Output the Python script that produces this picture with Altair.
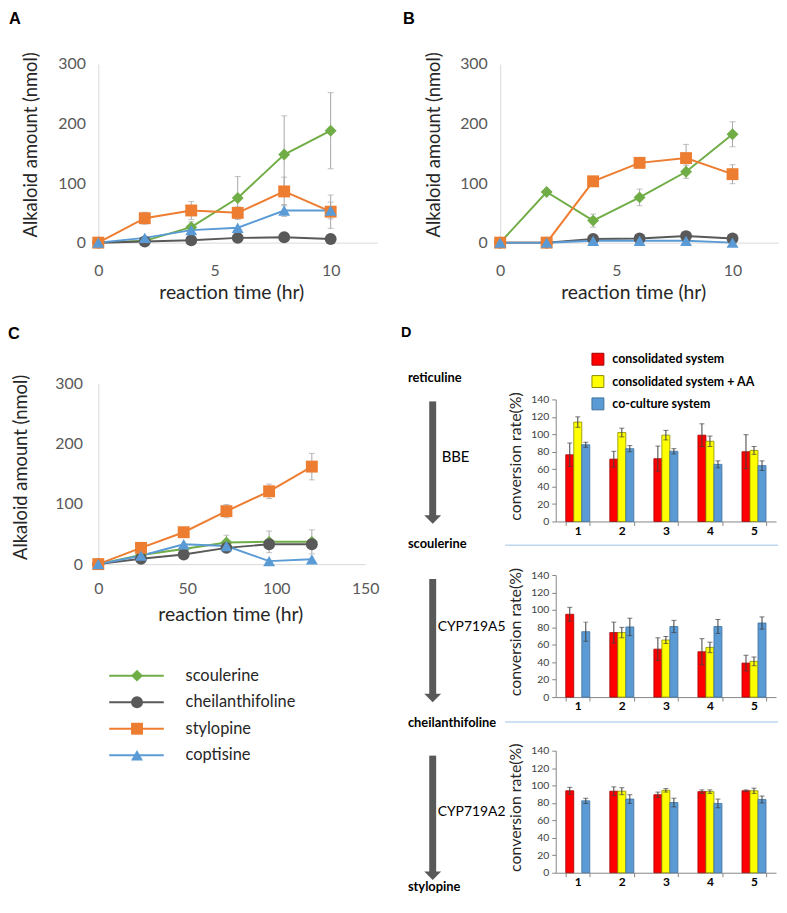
import altair as alt
import pandas as pd

FONT = "Lato"
LBL = "#595959"
TTL = "#262626"
AXL = "#D9D9D9"

series = ["scoulerine", "cheilanthifoline", "stylopine", "coptisine"]
series_colors = ["#70AD47", "#595959", "#ED7D31", "#5B9BD5"]
series_shapes = ["diamond", "circle", "square", "triangle-up"]

time_ab = [0, 2, 4, 6, 8, 10]
time_c = [0, 24, 48, 72, 96, 120]
ticks_ab = [0, 5, 10]
ticks_c = [0, 50, 100, 150]
ticks_amount = [0, 100, 200, 300]

# Panel A
a_scoulerine = [0, 3, 26, 75, 148, 188]
a_scoulerine_err = [0, 0, 9, 36, 65, 64]
a_cheilanthifoline = [0, 2, 4, 8, 9, 6]
a_cheilanthifoline_err = [0, 0, 0, 0, 0, 0]
a_stylopine = [0, 41, 54, 50, 86, 52]
a_stylopine_err = [0, 10, 15, 10, 24, 28]
a_coptisine = [0, 8, 21, 25, 54, 54]
a_coptisine_err = [0, 0, 0, 0, 10, 14]

# Panel B
b_scoulerine = [0, 85, 37, 76, 119, 182]
b_scoulerine_err = [0, 0, 11, 14, 11, 21]
b_cheilanthifoline = [0, 0, 6, 7, 11, 7]
b_cheilanthifoline_err = [0, 0, 0, 0, 0, 0]
b_stylopine = [0, 0, 103, 134, 142, 115]
b_stylopine_err = [0, 0, 0, 0, 23, 16]
b_coptisine = [0, 0, 3, 3, 3, 0]
b_coptisine_err = [0, 0, 0, 0, 0, 0]

# Panel C
c_scoulerine = [0, 15, 25, 36, 37, 37]
c_scoulerine_err = [0, 0, 0, 12, 18, 20]
c_cheilanthifoline = [0, 9, 16, 27, 33, 33]
c_cheilanthifoline_err = [0, 0, 0, 0, 0, 0]
c_stylopine = [0, 27, 53, 88, 121, 162]
c_stylopine_err = [0, 0, 0, 11, 12, 22]
c_coptisine = [0, 14, 33, 30, 5, 8]
c_coptisine_err = [0, 0, 0, 5, 0, 0]

# Panel D
systems = ["consolidated system", "consolidated system + AA", "co-culture system"]
sys_fill = ["#FF0000", "#FFFF00", "#5B9BD5"]
sys_stroke = ["#A00000", "#8C8C00", "#41719C"]
groups = ["1", "2", "3", "4", "5"]
ticks_rate = [0, 20, 40, 60, 80, 100, 120, 140]

d1_red = [76.5, 71.5, 72, 99, 80]
d1_red_err = [13.5, 9, 14.5, 13, 19.5]
d1_yellow = [114, 102, 99, 92, 81.5]
d1_yellow_err = [6, 5, 5.5, 6, 4.5]
d1_blue = [88, 83.5, 80.5, 65.5, 64]
d1_blue_err = [3, 3.5, 3, 4, 5.5]

d2_red = [95, 74, 55, 52, 39]
d2_red_err = [8, 12, 13, 15, 9]
d2_yellow = [None, 74, 65.5, 57, 41]
d2_yellow_err = [None, 6, 4, 6, 5]
d2_blue = [75, 80.5, 81, 81, 85]
d2_blue_err = [11, 10, 7, 8, 7]

d3_red = [94, 93.5, 89.5, 93, 94]
d3_red_err = [4, 5, 3, 2, 1]
d3_yellow = [None, 93.5, 94.5, 93, 94]
d3_yellow_err = [None, 4, 2, 2, 3]
d3_blue = [82.5, 84.5, 80.5, 79.5, 84]
d3_blue_err = [3, 5, 5, 5, 4]


def one_row(s=""):
    return pd.DataFrame({"s": [s]})


def txt(s, x, y, size, bold=False, align="left", baseline="middle", font=FONT, color="#000000"):
    return alt.Chart(one_row(s)).mark_text(
        align=align, baseline=baseline, font=font, fontSize=size,
        fontWeight="bold" if bold else "normal", color=color
    ).encode(x=alt.value(x), y=alt.value(y), text="s:N")


series_color = alt.Color("series:N", scale=alt.Scale(domain=series, range=series_colors), legend=None)
series_shape = alt.Shape("series:N", scale=alt.Scale(domain=series, range=series_shapes), legend=None)


def line_panel(times, vals, errs, xdom, xticks, w, h, letter, lx, ly,
               ytx, yty, xtx, xty, ylabpad, xlabpad):
    rows = []
    for s in series:
        for t, v, e in zip(times, vals[s], errs[s]):
            rows.append({"series": s, "t": t, "v": v, "lo": v - e, "hi": v + e, "e": e})
    df = pd.DataFrame(rows)
    edf = df[df.e > 0]
    xs = alt.Scale(domain=xdom, nice=False, zero=False)
    ys = alt.Scale(domain=[0, 300], nice=False, zero=False)
    xax = alt.Axis(values=xticks, title="reaction time (hr)", grid=False, ticks=False,
                   domainColor=AXL, domainWidth=1, labelFlush=False,
                   labelFont=FONT, labelFontSize=16, labelColor=LBL, labelPadding=xlabpad,
                   titleFont=FONT, titleFontSize=19.5, titleFontWeight="normal", titleColor=TTL,
                   titleX=xtx, titleY=xty, titleBaseline="middle", titleAlign="center")
    yax = alt.Axis(values=ticks_amount, title="Alkaloid amount (nmol)", grid=False, ticks=False,
                   domainColor=AXL, domainWidth=1,
                   labelFont=FONT, labelFontSize=16, labelColor=LBL, labelPadding=ylabpad,
                   titleFont=FONT, titleFontSize=18.5, titleFontWeight="normal", titleColor=TTL,
                   titleX=ytx, titleY=yty, titleBaseline="middle", titleAlign="center",
                   titleAngle=270)
    X = alt.X("t:Q", scale=xs, axis=xax)
    Y = alt.Y("v:Q", scale=ys, axis=yax)
    eb = alt.Chart(edf)
    err = eb.mark_rule(color="#A6A6A6", strokeWidth=1).encode(
        x=X, y=alt.Y("lo:Q", scale=ys, axis=yax), y2="hi:Q")
    cap_hi = eb.mark_tick(orient="horizontal", size=6, thickness=1, color="#A6A6A6").encode(
        x=X, y=alt.Y("hi:Q", scale=ys, axis=yax))
    cap_lo = eb.mark_tick(orient="horizontal", size=6, thickness=1, color="#A6A6A6").encode(
        x=X, y=alt.Y("lo:Q", scale=ys, axis=yax))
    base = alt.Chart(df)
    line = base.mark_line(strokeWidth=2).encode(x=X, y=Y, color=series_color)
    pts = base.mark_point(filled=True, size=144, opacity=1).encode(
        x=X, y=Y, color=series_color, shape=series_shape)
    lab = txt(letter, lx, ly, 16.5, bold=True, baseline="top", font="Liberation Sans")
    return alt.layer(err, cap_hi, cap_lo, line, pts, lab).properties(width=w, height=h)


def pack(prefix):
    g = globals()
    vals = {s: g[f"{prefix}_{s}"] for s in series}
    errs = {s: g[f"{prefix}_{s}_err"] for s in series}
    return vals, errs


va, ea = pack("a")
vb, eb_ = pack("b")
vc, ec = pack("c")

A = line_panel(time_ab, va, ea, [0, 12], ticks_ab, 281, 180, "A", -90, -53,
               -68, 81, 134, 50, 13, 20)
B = line_panel(time_ab, vb, eb_, [0, 12], ticks_ab, 281, 180, "B", -98, -53,
               -67, 81, 134, 50, 13, 20)
C = line_panel(time_c, vc, ec, [0, 150], ticks_c, 269, 182, "C", -91, -58,
               -78, 84, 133, 51, 16, 17)

# manual line+marker legend for A-C
leg_df = pd.DataFrame({"series": series})
LY = alt.Y("series:N", scale=alt.Scale(type="point", domain=series, padding=0.5), axis=None)
leg_rule = alt.Chart(leg_df).mark_rule(strokeWidth=2).encode(
    x=alt.value(11), x2=alt.value(66), y=LY, color=series_color)
leg_pts = alt.Chart(leg_df).mark_point(filled=True, size=144, opacity=1).encode(
    x=alt.value(39), y=LY, color=series_color, shape=series_shape)
leg_txt = alt.Chart(leg_df).mark_text(align="left", baseline="middle", font=FONT,
                                      fontSize=16.5, color=TTL).encode(
    x=alt.value(88), y=LY, text="series:N")
legend_chart = alt.layer(leg_rule, leg_pts, leg_txt).properties(width=220, height=107)

left_col = alt.vconcat(C, legend_chart, spacing=99, bounds="flush")


def arrow(y1, y2, yh):
    shaft = alt.Chart(one_row()).mark_rule(color="#595959", strokeWidth=7).encode(
        x=alt.value(-124), y=alt.value(y1), y2=alt.value(y2))
    head = alt.Chart(one_row()).mark_point(shape="M-1,-0.5L1,-0.5L0,0.5Z", filled=True,
                                           size=289, color="#595959", opacity=1).encode(
        x=alt.value(-124), y=alt.value(yh))
    return [shaft, head]


def sep(y):
    return alt.Chart(one_row()).mark_rule(color="#BDD7EE", strokeWidth=1.5).encode(
        x=alt.value(-51), x2=alt.value(224), y=alt.value(y))


def bar_panel(red, red_e, yel, yel_e, blu, blu_e, show_legend, decor):
    rows = []
    for s, vals, errs in zip(systems, [red, yel, blu], [red_e, yel_e, blu_e]):
        for g, v, e in zip(groups, vals, errs):
            if v is None:
                continue
            rows.append({"grp": g, "sys": s, "val": v, "lo": v - e, "hi": v + e})
    df = pd.DataFrame(rows)
    xax = alt.Axis(title=None, labelAngle=0, labelFont=FONT, labelFontSize=12,
                   labelFontWeight="bold", labelColor="#000000", labelPadding=0,
                   ticks=True, tickBand="extent", tickSize=4, tickColor="#868686",
                   domainColor="#868686", grid=False)
    X = alt.X("grp:N", scale=alt.Scale(domain=groups, paddingInner=0.4545, paddingOuter=0.2273),
              axis=xax)
    XO = alt.XOffset("sys:N", scale=alt.Scale(domain=systems, paddingInner=0, paddingOuter=0))
    ys = alt.Scale(domain=[0, 140], nice=False, zero=False)
    yax = alt.Axis(values=ticks_rate, title="conversion rate(%)", grid=False,
                   ticks=True, tickSize=4, tickColor="#868686", domainColor="#868686",
                   labelFont=FONT, labelFontSize=10.5, labelColor="#404040", labelPadding=3,
                   titleFont=FONT, titleFontSize=16, titleFontWeight="normal", titleColor=TTL,
                   titleX=-41, titleY=57, titleBaseline="middle", titleAlign="center",
                   titleAngle=270)
    if show_legend:
        leg = alt.Legend(title=None, orient="none", legendX=36, legendY=-47,
                         symbolType="square", symbolSize=144, symbolStrokeWidth=1,
                         labelFont=FONT, labelFontSize=12.5, labelFontWeight="bold",
                         labelColor="#000000", labelOffset=8, rowPadding=5.5, padding=0,
                         labelLimit=300)
    else:
        leg = None
    fill = alt.Fill("sys:N", scale=alt.Scale(domain=systems, range=sys_fill), legend=leg)
    stroke = alt.Stroke("sys:N", scale=alt.Scale(domain=systems, range=sys_stroke), legend=leg)
    base = alt.Chart(df)
    bars = base.mark_bar(strokeWidth=0.8).encode(
        x=X, xOffset=XO, y=alt.Y("val:Q", scale=ys, axis=yax), fill=fill, stroke=stroke)
    err = base.mark_rule(color="#404040", strokeWidth=1).encode(
        x=X, xOffset=XO, y=alt.Y("lo:Q", scale=ys, axis=yax), y2="hi:Q")
    cap_hi = base.mark_tick(orient="horizontal", size=5, thickness=1, color="#404040").encode(
        x=X, xOffset=XO, y=alt.Y("hi:Q", scale=ys, axis=yax))
    cap_lo = base.mark_tick(orient="horizontal", size=5, thickness=1, color="#404040").encode(
        x=X, xOffset=XO, y=alt.Y("lo:Q", scale=ys, axis=yax))
    return alt.layer(bars, err, cap_hi, cap_lo, *decor).properties(width=222, height=123)


d1_decor = [
    txt("D", -156, -74, 14.5, bold=True, baseline="top", font="Liberation Sans"),
    txt("reticuline", -149, -22, 13, bold=True),
    *arrow(2, 118, 121),
    txt("BBE", -115, 58, 15),
    txt("scoulerine", -149, 146, 13, bold=True),
    sep(147),
]
d2_decor = [
    *arrow(4, 121, 124),
    txt("CYP719A5", -119, 52, 14),
    txt("cheilanthifoline", -149, 149, 13, bold=True),
    sep(148),
]
d3_decor = [
    *arrow(5, 123, 126),
    txt("CYP719A2", -119, 62, 14),
    txt("stylopine", -149, 137, 13, bold=True),
]

D1 = bar_panel(d1_red, d1_red_err, d1_yellow, d1_yellow_err, d1_blue, d1_blue_err, True, d1_decor)
D2 = bar_panel(d2_red, d2_red_err, d2_yellow, d2_yellow_err, d2_blue, d2_blue_err, False, d2_decor)
D3 = bar_panel(d3_red, d3_red_err, d3_yellow, d3_yellow_err, d3_blue, d3_blue_err, False, d3_decor)

d_stack = alt.vconcat(D1, D2, D3, spacing=54, bounds="flush").resolve_scale(
    fill="independent", stroke="independent").resolve_legend(
    fill="independent", stroke="independent")

# invisible 1px spacer that lowers the D stack 16px below the C panel's top
spacer = alt.Chart(one_row()).mark_point(opacity=0).encode(
    x=alt.value(0), y=alt.value(0)).properties(width=1, height=1)

d_col = alt.vconcat(spacer, d_stack, spacing=15, bounds="flush").resolve_scale(
    fill="independent", stroke="independent").resolve_legend(
    fill="independent", stroke="independent")

row1 = alt.hconcat(A, B, spacing=26)
row2 = alt.hconcat(left_col, d_col, spacing=22)

chart = alt.vconcat(row1, row2, spacing=23).properties(padding=0).configure(
    font=FONT, view=alt.ViewConfig(stroke=None))

chart.save("out.html", embed_options={"renderer": "svg", "actions": False})
